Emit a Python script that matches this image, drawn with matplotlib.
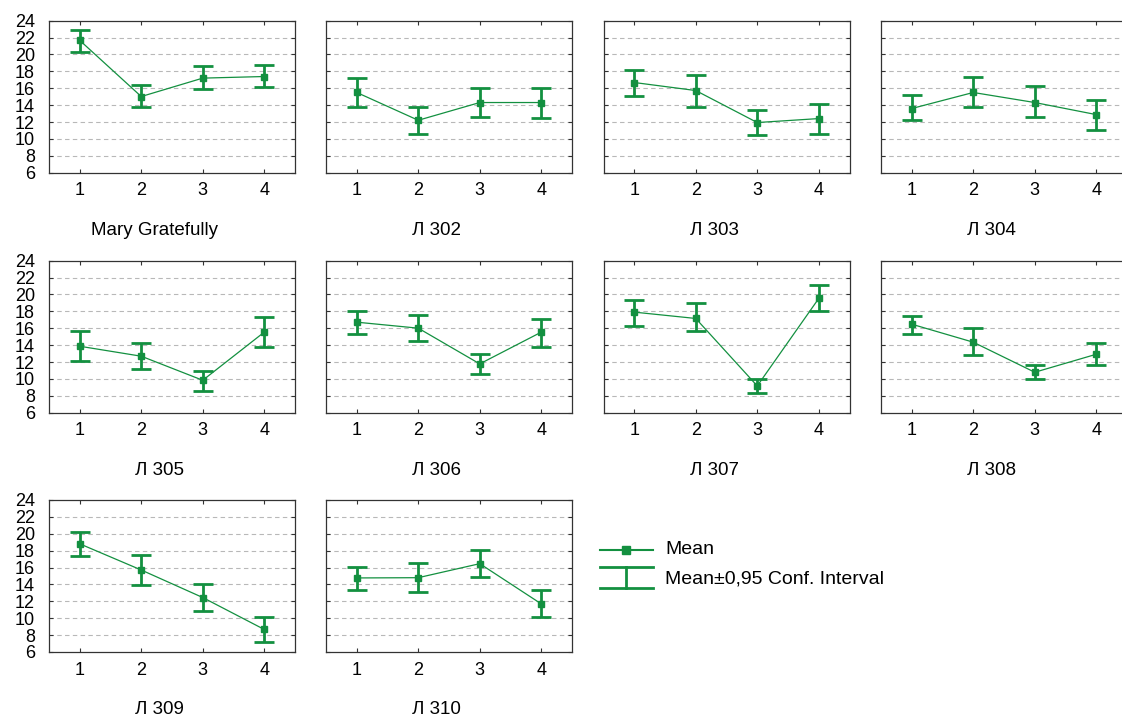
import numpy as np
import matplotlib
matplotlib.use("Agg")
import matplotlib.pyplot as plt
from matplotlib.lines import Line2D

plt.rcParams['font.family'] = ['Liberation Sans', 'DejaVu Sans']
narrow = ['Liberation Sans Narrow', 'Liberation Sans', 'DejaVu Sans']

# group names and means with 95% confidence bounds, per stage 1..4
groups = ["Mary Gratefully", "Л 302", "Л 303", "Л 304", "Л 305",
          "Л 306", "Л 307", "Л 308", "Л 309", "Л 310"]
stages = [1, 2, 3, 4]

means = [
    [21.67, 15.02, 17.20, 17.39],
    [15.50, 12.21, 14.31, 14.31],
    [16.68, 15.73, 11.94, 12.41],
    [13.60, 15.50, 14.31, 12.88],
    [13.87, 12.69, 9.84, 15.54],
    [16.72, 16.01, 11.78, 15.54],
    [17.91, 17.16, 9.17, 19.53],
    [16.48, 14.35, 10.79, 12.92],
    [18.81, 15.71, 12.45, 8.67],
    [14.77, 14.80, 16.46, 11.70],
]
lower = [
    [20.28, 13.80, 15.93, 16.13],
    [13.80, 10.55, 12.61, 12.53],
    [15.14, 13.79, 10.43, 10.63],
    [12.25, 13.79, 12.65, 11.06],
    [12.13, 11.22, 8.53, 13.79],
    [15.34, 14.51, 10.63, 13.79],
    [16.29, 15.65, 8.34, 18.03],
    [15.34, 12.85, 10.00, 11.62],
    [17.40, 13.94, 10.91, 7.14],
    [13.31, 13.15, 14.88, 10.20],
]
upper = [
    [22.93, 16.41, 18.66, 18.74],
    [17.16, 13.83, 16.01, 16.05],
    [18.15, 17.59, 13.40, 14.19],
    [15.18, 17.28, 16.25, 14.59],
    [15.69, 14.31, 10.95, 17.31],
    [18.07, 17.59, 12.92, 17.04],
    [19.33, 18.98, 9.96, 21.11],
    [17.43, 16.01, 11.66, 14.23],
    [20.23, 17.44, 14.10, 10.09],
    [16.06, 16.53, 18.03, 13.39],
]
yticks = [6, 8, 10, 12, 14, 16, 18, 20, 22, 24]

W, H = 1122, 718
green = '#139040'
col_left = [49, 326, 603.5, 881]
row_top = [20.7, 260.7, 500]
pw, ph = 246, 152

fig = plt.figure(figsize=(W / 100, H / 100), dpi=100)

for i, name in enumerate(groups):
    r, c = divmod(i, 4)
    ax = fig.add_axes([col_left[c] / W, 1 - (row_top[r] + ph) / H, pw / W, ph / H])
    m = np.array(means[i])
    lo = np.array(lower[i])
    hi = np.array(upper[i])
    ax.errorbar(stages, m, yerr=[m - lo, hi - m], fmt='-s', color=green,
                lw=0.9, ms=4.5, elinewidth=2, capsize=7, capthick=2)
    ax.set_xlim(0.5, 4.5)
    ax.set_ylim(6, 24)
    ax.set_xticks(stages)
    ax.set_yticks(yticks)
    for y in yticks[1:-1]:
        ax.axhline(y, color='#b8b8b8', lw=0.8, ls=(0, (4, 3)), zorder=0)
    ax.tick_params(direction='in', length=3, width=0.8, top=True, right=True,
                   labelsize=13, colors='#333333', labelcolor='black')
    ax.tick_params(axis='x', pad=7)
    ax.tick_params(axis='y', pad=10)
    if c != 0:
        ax.set_yticklabels([])
    for s in ax.spines.values():
        s.set_color('#333333')
        s.set_linewidth(0.9)
    ax.text(0.43 if i == 0 else 0.45, -0.38, name, transform=ax.transAxes,
            ha='center', va='center', fontsize=13.5, family=narrow)

# legend drawn in its own overlay axes
lg = fig.add_axes([0, 0, 1, 1])
lg.set_xlim(0, W)
lg.set_ylim(H, 0)
lg.axis('off')
lg.add_line(Line2D([600, 653], [550, 550], color=green, lw=1.5))
lg.add_line(Line2D([626], [550], color=green, marker='s', ms=6, lw=0))
lg.add_line(Line2D([600, 653], [567, 567], color=green, lw=2))
lg.add_line(Line2D([600, 653], [588, 588], color=green, lw=2))
lg.add_line(Line2D([626, 626], [567, 588], color=green, lw=2))
lg.text(665, 550, "Mean", va='center', ha='left', fontsize=14, family=narrow)
lg.text(665, 579, "Mean±0,95 Conf. Interval", va='center', ha='left',
        fontsize=14, family=narrow)

fig.savefig("out.png", dpi=100)
